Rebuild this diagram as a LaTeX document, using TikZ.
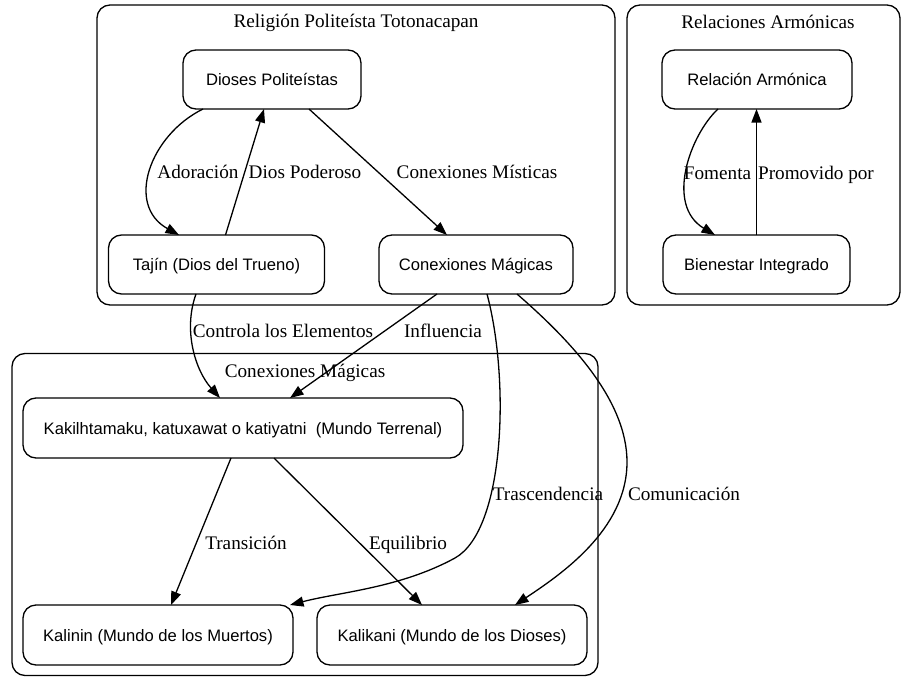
\documentclass[tikz,border=0pt]{standalone}
\usepackage{fontspec}
\setmainfont{Liberation Serif}
\newfontfamily\boxfont{Liberation Sans}
\usetikzlibrary{arrows.meta}

\begin{document}
\begin{tikzpicture}[
  x=1pt, y=-1pt,
  every node/.style={inner sep=0pt, outer sep=0pt},
  group/.style={draw, rounded corners=13pt, line width=1.3pt},
  box/.style={draw, rounded corners=13pt, line width=1.3pt,
    font=\boxfont\fontsize{16.6}{20}\selectfont,
    text height=12pt, text depth=0pt, minimum height=59pt},
  title/.style={font=\fontsize{19.2}{23}\selectfont, anchor=base},
  lbl/.style={font=\fontsize{19.2}{23}\selectfont, anchor=base},
  edge/.style={line width=1.3pt, -{Triangle[length=13.5pt,width=10pt]}}
]
\useasboundingbox (0,0) rectangle (902,677);

% groups
\node[group, minimum width=518pt, minimum height=300pt] (g1) at (356,155) {};
\node[group, minimum width=273pt, minimum height=300pt] (g2) at (763.5,155) {};
\node[group, minimum width=586pt, minimum height=322pt] (g3) at (305,514.5) {};

\node[title] (t1) at (356,28) {Religión Politeísta Totonacapan};
\node[title] (t2) at (768,29) {Relaciones Armónicas};
\node[title] (t3) at (305,377) {Conexiones Mágicas};

% nodes
\node[box, minimum width=178pt] (dio) at (272,79.5) {Dioses Politeístas};
\node[box, minimum width=216pt] (taj) at (216.5,264.5) {Tajín (Dios del Trueno)};
\node[box, minimum width=194pt] (cm)  at (476,264.5) {Conexiones Mágicas};
\node[box, minimum width=190pt] (rel) at (757,79.5) {Relación Armónica};
\node[box, minimum width=187pt] (bie) at (756.5,264.5) {Bienestar Integrado};
\node[box, minimum width=440pt, minimum height=60pt] (kak) at (243,428) {Kakilhtamaku, katuxawat o katiyatni\ \ (Mundo Terrenal)};
\node[box, minimum width=270pt, minimum height=60pt] (kln) at (158,635) {Kalinin (Mundo de los Muertos)};
\node[box, minimum width=270pt, minimum height=60pt] (kkn) at (452,635) {Kalikani (Mundo de los Dioses)};

% connectors
\draw[edge] ([xshift=-69pt]dio.south) .. controls (150,135) and (125,205) .. ([xshift=-37.5pt]taj.north);
\draw[edge] ([xshift=9pt]taj.north) -- ([xshift=-8pt]dio.south);
\draw[edge] ([xshift=37pt]dio.south) -- ([xshift=-29pt]cm.north);
\draw[edge] ([xshift=-39pt]rel.south) .. controls (690,135) and (665,205) .. ([xshift=-41.5pt]bie.north);
\draw[edge] (bie.north) -- (bie.north |- rel.south);
\draw[edge] ([xshift=-20.5pt]taj.south) .. controls (183,330) and (195,370) .. ([xshift=-23pt]kak.north);
\draw[edge] ([xshift=-39pt]cm.south) -- ([xshift=47pt]kak.north);
\draw[edge] ([xshift=11pt]cm.south) .. controls (510,380) and (505,530) .. (455,558)
            .. controls (400,588) and (340,592) .. ([xshift=132pt]kln.north);
\draw[edge] ([xshift=41pt]cm.south) .. controls (570,340) and (627,400) .. (627,462)
            .. controls (627,530) and (560,575) .. ([xshift=63pt]kkn.north);
\draw[edge] ([xshift=-12pt]kak.south) -- ([xshift=13pt]kln.north);
\draw[edge] ([xshift=31pt]kak.south) -- ([xshift=-30pt]kkn.north);

% connector labels
\node[lbl] (l1) at (198,178) {Adoración};
\node[lbl] (l2) at (305,178) {Dios Poderoso};
\node[lbl] (l3) at (477,178) {Conexiones Místicas};
\node[lbl] (l4) at (717.5,179) {Fomenta};
\node[lbl] (l5) at (816,179) {Promovido por};
\node[lbl] (l6) at (283,337) {Controla los Elementos};
\node[lbl] (l7) at (443,337) {Influencia};
\node[lbl] (l8) at (548,500) {Trascendencia};
\node[lbl] (l9) at (684,500) {Comunicación};
\node[lbl] (l10) at (246,549) {Transición};
\node[lbl] (l11) at (408,549) {Equilibrio};
\end{tikzpicture}
\end{document}
